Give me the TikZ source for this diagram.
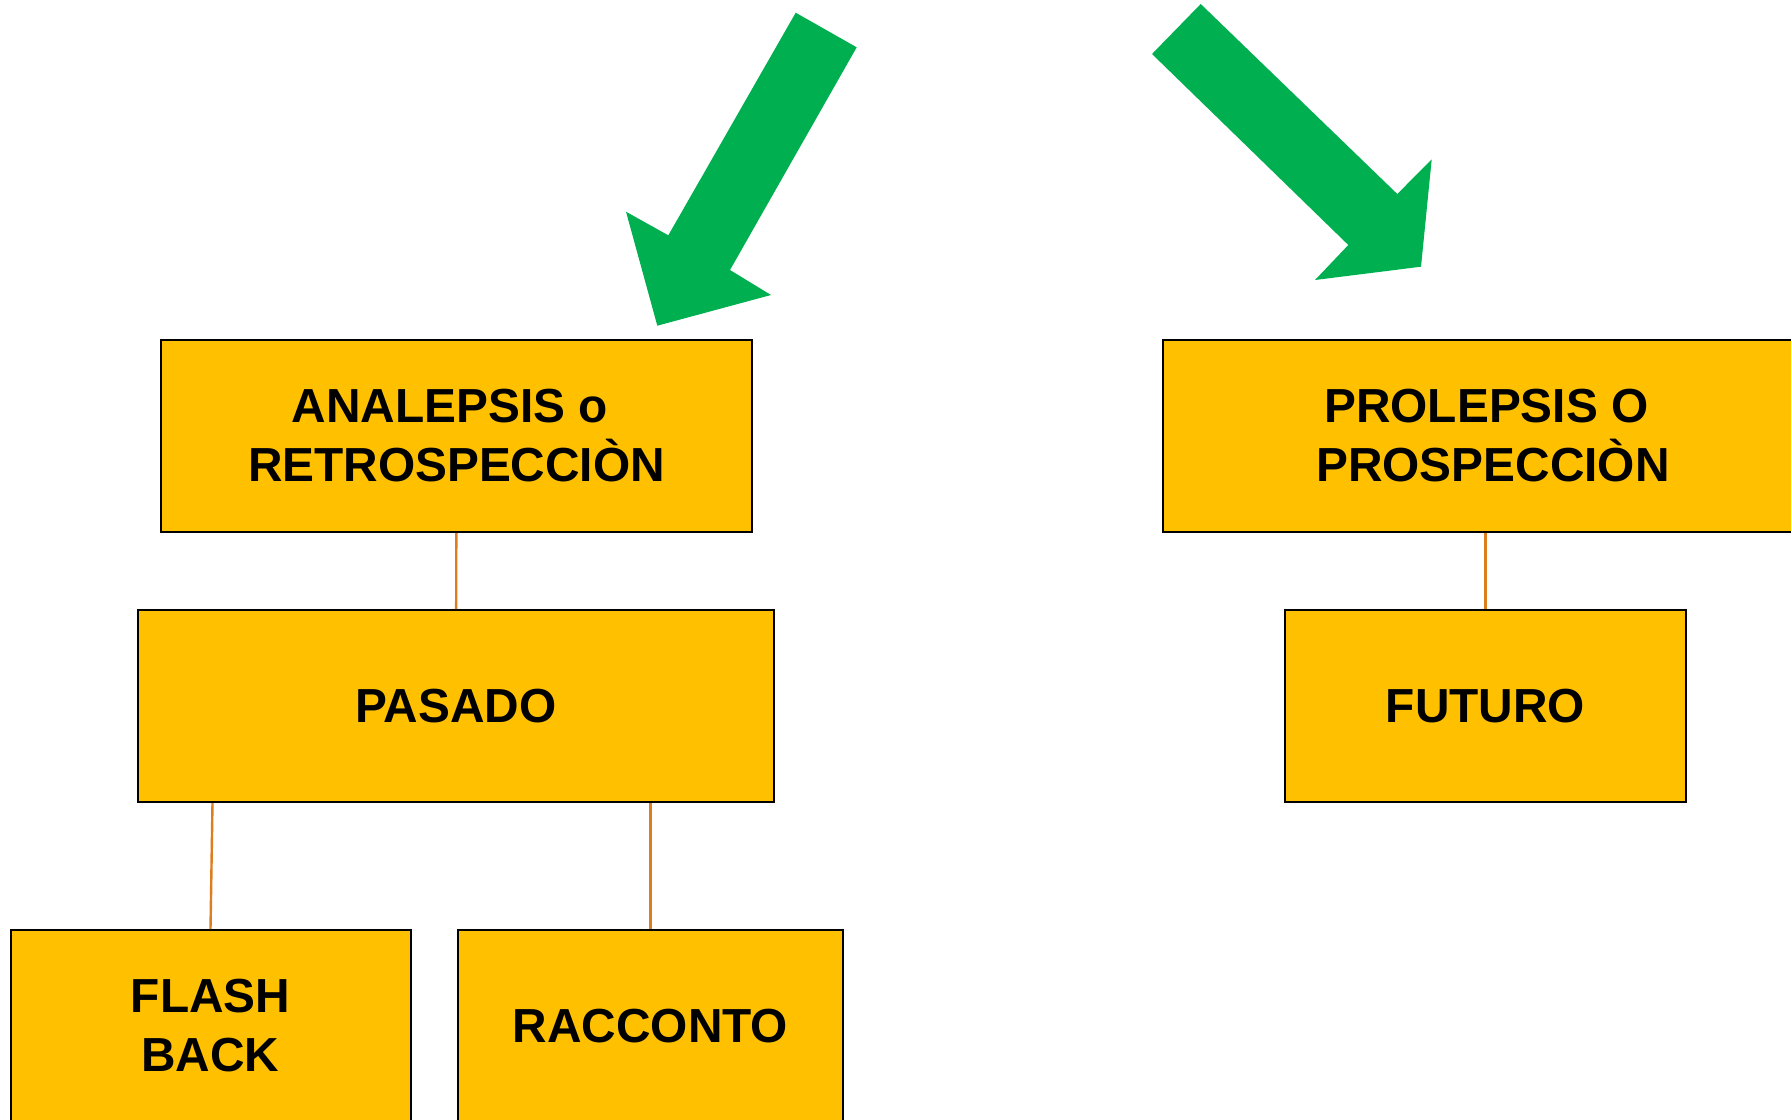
\documentclass[tikz,border=0pt]{standalone}
\usepackage{fontspec}
\setmainfont{Liberation Sans}
\definecolor{tiempobox}{HTML}{FFC000}
\definecolor{tiempoarrow}{HTML}{00B050}
\definecolor{tiempoline}{HTML}{DC7E1E}

\begin{document}
\begin{tikzpicture}[x=0.5pt, y=-0.5pt,
        caja/.style={draw=black, line width=1pt, fill=tiempobox, align=center, inner sep=0pt,
            font=\fontsize{23.9}{29.5}\selectfont\bfseries},
        enlace/.style={draw=tiempoline, line width=1.2pt}]
            \useasboundingbox (0,0) rectangle (1791,1119);

            % Green arrows
            \fill[tiempoarrow] (795.7,12.7) -- (856.7,47.3) -- (730,270) -- (771,295)
                -- (657.3,325.7) -- (626,211.7) -- (668.3,235.3) -- cycle;
            \fill[tiempoarrow] (1200.7,4) -- (1152,54) -- (1348.3,245) -- (1315,280)
                -- (1421,266.7) -- (1431.7,159.3) -- (1397.3,194) -- cycle;

            % Past
            \node[caja, minimum width=295.5pt, minimum height=96pt] (analepsis) at (456.5,436)
                {ANALEPSIS o\hspace*{0.278em}\\RETROSPECCIÒN};
            \node[caja, minimum width=318pt, minimum height=96pt] (pasado) at (456,706) {PASADO};
            \node[caja, minimum width=200pt, minimum height=96pt] (flash) at (210.5,1026) {FLASH\\BACK};
            \node[caja, minimum width=192.5pt, minimum height=96pt] (racconto) at (650.5,1026) {RACCONTO};

            % Future
            \node[caja, minimum width=330pt, minimum height=96pt] (prolepsis) at (1493,436)
                {PROLEPSIS O\hspace*{0.278em}\\PROSPECCIÒN};
            \node[caja, minimum width=200.5pt, minimum height=96pt] (futuro) at (1485.5,706) {FUTURO};

            % Lines
            \draw[enlace] (analepsis) -- (pasado);
            \draw[enlace] ([xshift=1pt]pasado.south -| flash.north) -- (flash.north);
            \draw[enlace] (pasado.south -| racconto.north) -- (racconto.north);
            \draw[enlace] (prolepsis.south -| futuro.north) -- (futuro.north);
        \end{tikzpicture}
\end{document}
